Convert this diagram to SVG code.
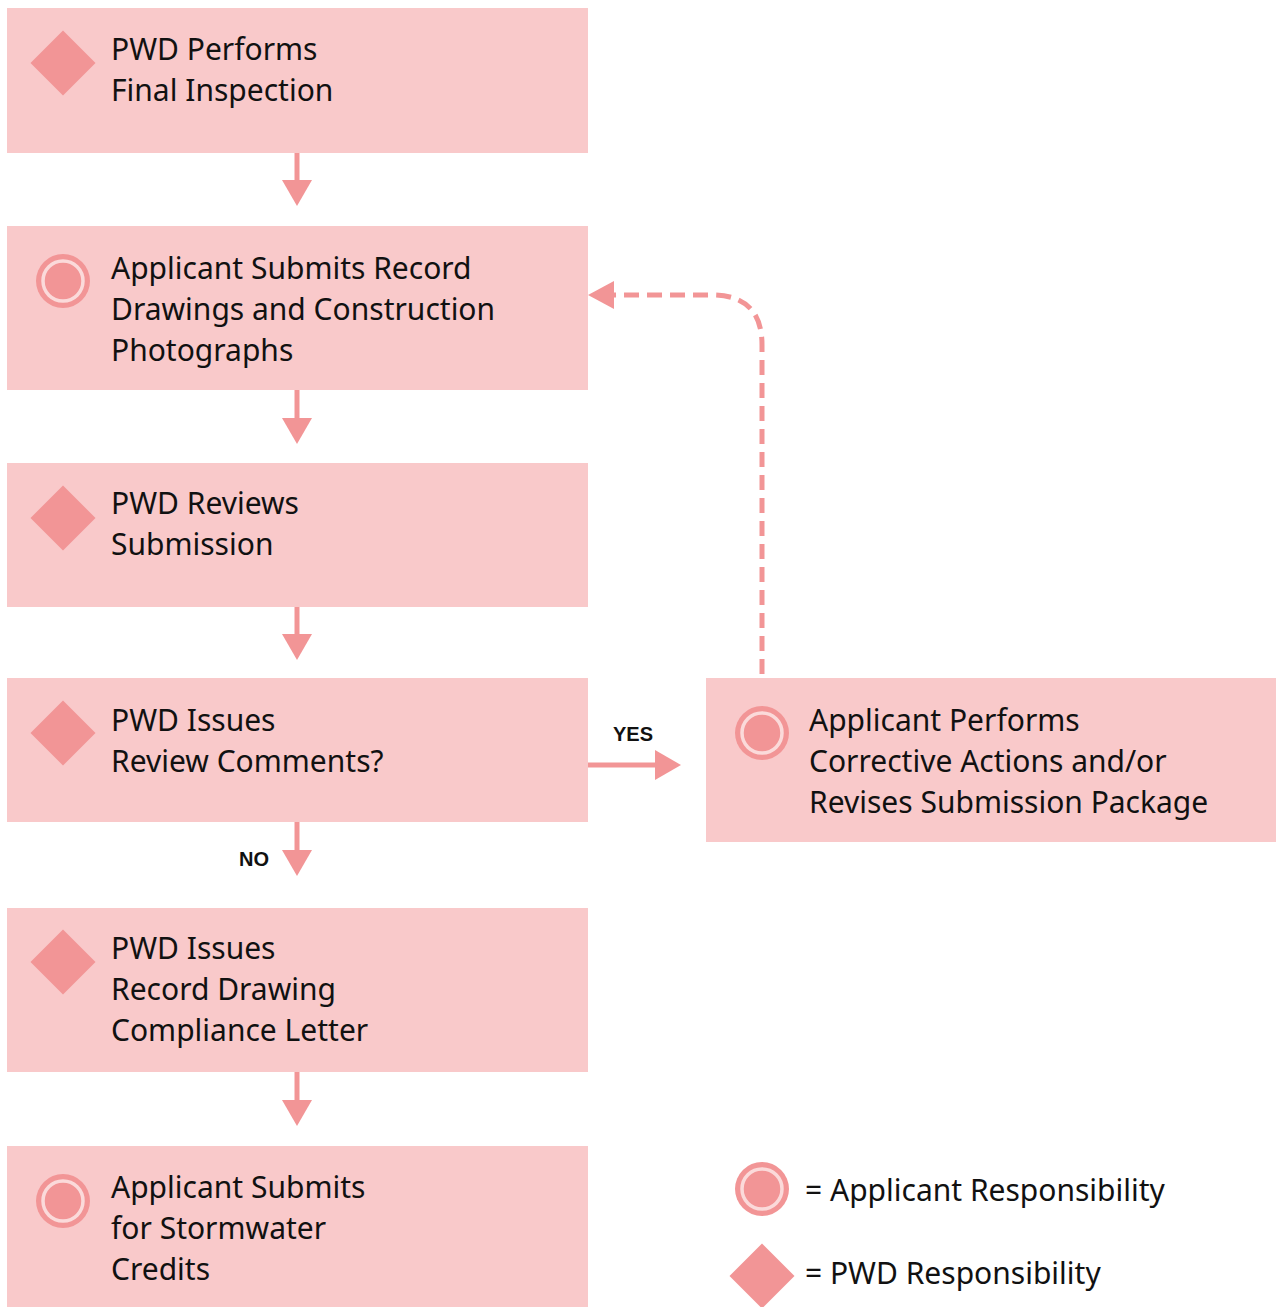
<svg xmlns="http://www.w3.org/2000/svg" width="1276" height="1307" viewBox="0 0 1276 1307">
<style>
.box{fill:#F9C9CA}
.ic{fill:#F29596}
.ring{fill:none;stroke:#FBDADA;stroke-width:3.5}
.t{font-family:"Noto Sans","Open Sans",sans-serif;font-size:30px;fill:#111}
.lbl{font-family:"Liberation Sans",Arial,sans-serif;font-size:20px;font-weight:bold;fill:#111}
.ln{stroke:#F29596;stroke-width:5;fill:none}
.dash{stroke:#F29596;stroke-width:5;fill:none;stroke-dasharray:15 8}
</style>
<defs>
<g id="dia"><rect x="-23" y="-23" width="46" height="46" transform="rotate(45)" class="ic"/></g>
<g id="circ"><circle r="27" class="ic"/><circle r="20" class="ring"/></g>
</defs>
<rect width="1276" height="1307" fill="#fff"/>

<g id="connectors">
<line x1="297" y1="153" x2="297" y2="180" class="ln"/><path d="M282,180 L312,180 L297,206 Z" fill="#F29596"/>
<line x1="297" y1="390" x2="297" y2="418" class="ln"/><path d="M282,418 L312,418 L297,444 Z" fill="#F29596"/>
<line x1="297" y1="607" x2="297" y2="634" class="ln"/><path d="M282,634 L312,634 L297,660 Z" fill="#F29596"/>
<line x1="297" y1="822" x2="297" y2="850" class="ln"/><path d="M282,850 L312,850 L297,876 Z" fill="#F29596"/>
<line x1="297" y1="1072" x2="297" y2="1100" class="ln"/><path d="M282,1100 L312,1100 L297,1126 Z" fill="#F29596"/>
<line x1="588" y1="765" x2="656" y2="765" class="ln"/><path d="M655,750 L655,780 L681,765 Z" fill="#F29596"/>
<path d="M762,674 L762,345 Q762,295 712,295 L614,295" class="dash"/>
<path d="M614,281 L614,309 L588,295 Z" fill="#F29596"/>
<text x="613" y="741" class="lbl">YES</text>
<text x="239" y="866" class="lbl">NO</text>
</g>

<g id="n1">
<rect x="7" y="8" width="581" height="145" class="box"/>
<use href="#dia" x="63" y="63"/>
<text class="t" x="111" y="60">PWD Performs</text>
<text class="t" x="111" y="101">Final Inspection</text>
</g>
<g id="n2">
<rect x="7" y="226" width="581" height="164" class="box"/>
<use href="#circ" x="63" y="281"/>
<text class="t" x="111" y="279">Applicant Submits Record</text>
<text class="t" x="111" y="320">Drawings and Construction</text>
<text class="t" x="111" y="361">Photographs</text>
</g>
<g id="n3">
<rect x="7" y="463" width="581" height="144" class="box"/>
<use href="#dia" x="63" y="518"/>
<text class="t" x="111" y="514">PWD Reviews</text>
<text class="t" x="111" y="555">Submission</text>
</g>
<g id="n4">
<rect x="7" y="678" width="581" height="144" class="box"/>
<use href="#dia" x="63" y="733"/>
<text class="t" x="111" y="731">PWD Issues</text>
<text class="t" x="111" y="772">Review Comments?</text>
</g>
<g id="n5">
<rect x="706" y="678" width="570" height="164" class="box"/>
<use href="#circ" x="762" y="733"/>
<text class="t" x="809" y="731">Applicant Performs</text>
<text class="t" x="809" y="772">Corrective Actions and/or</text>
<text class="t" x="809" y="813">Revises Submission Package</text>
</g>
<g id="n6">
<rect x="7" y="908" width="581" height="164" class="box"/>
<use href="#dia" x="63" y="962"/>
<text class="t" x="111" y="959">PWD Issues</text>
<text class="t" x="111" y="1000">Record Drawing</text>
<text class="t" x="111" y="1041">Compliance Letter</text>
</g>
<g id="n7">
<rect x="7" y="1146" width="581" height="161" class="box"/>
<use href="#circ" x="63" y="1201"/>
<text class="t" x="111" y="1198">Applicant Submits</text>
<text class="t" x="111" y="1239">for Stormwater</text>
<text class="t" x="111" y="1280">Credits</text>
</g>
<g id="legend">
<use href="#circ" x="762" y="1189"/>
<text class="t" x="805" y="1201">= Applicant Responsibility</text>
<use href="#dia" x="762" y="1276"/>
<text class="t" x="805" y="1284">= PWD Responsibility</text>
</g>
</svg>
